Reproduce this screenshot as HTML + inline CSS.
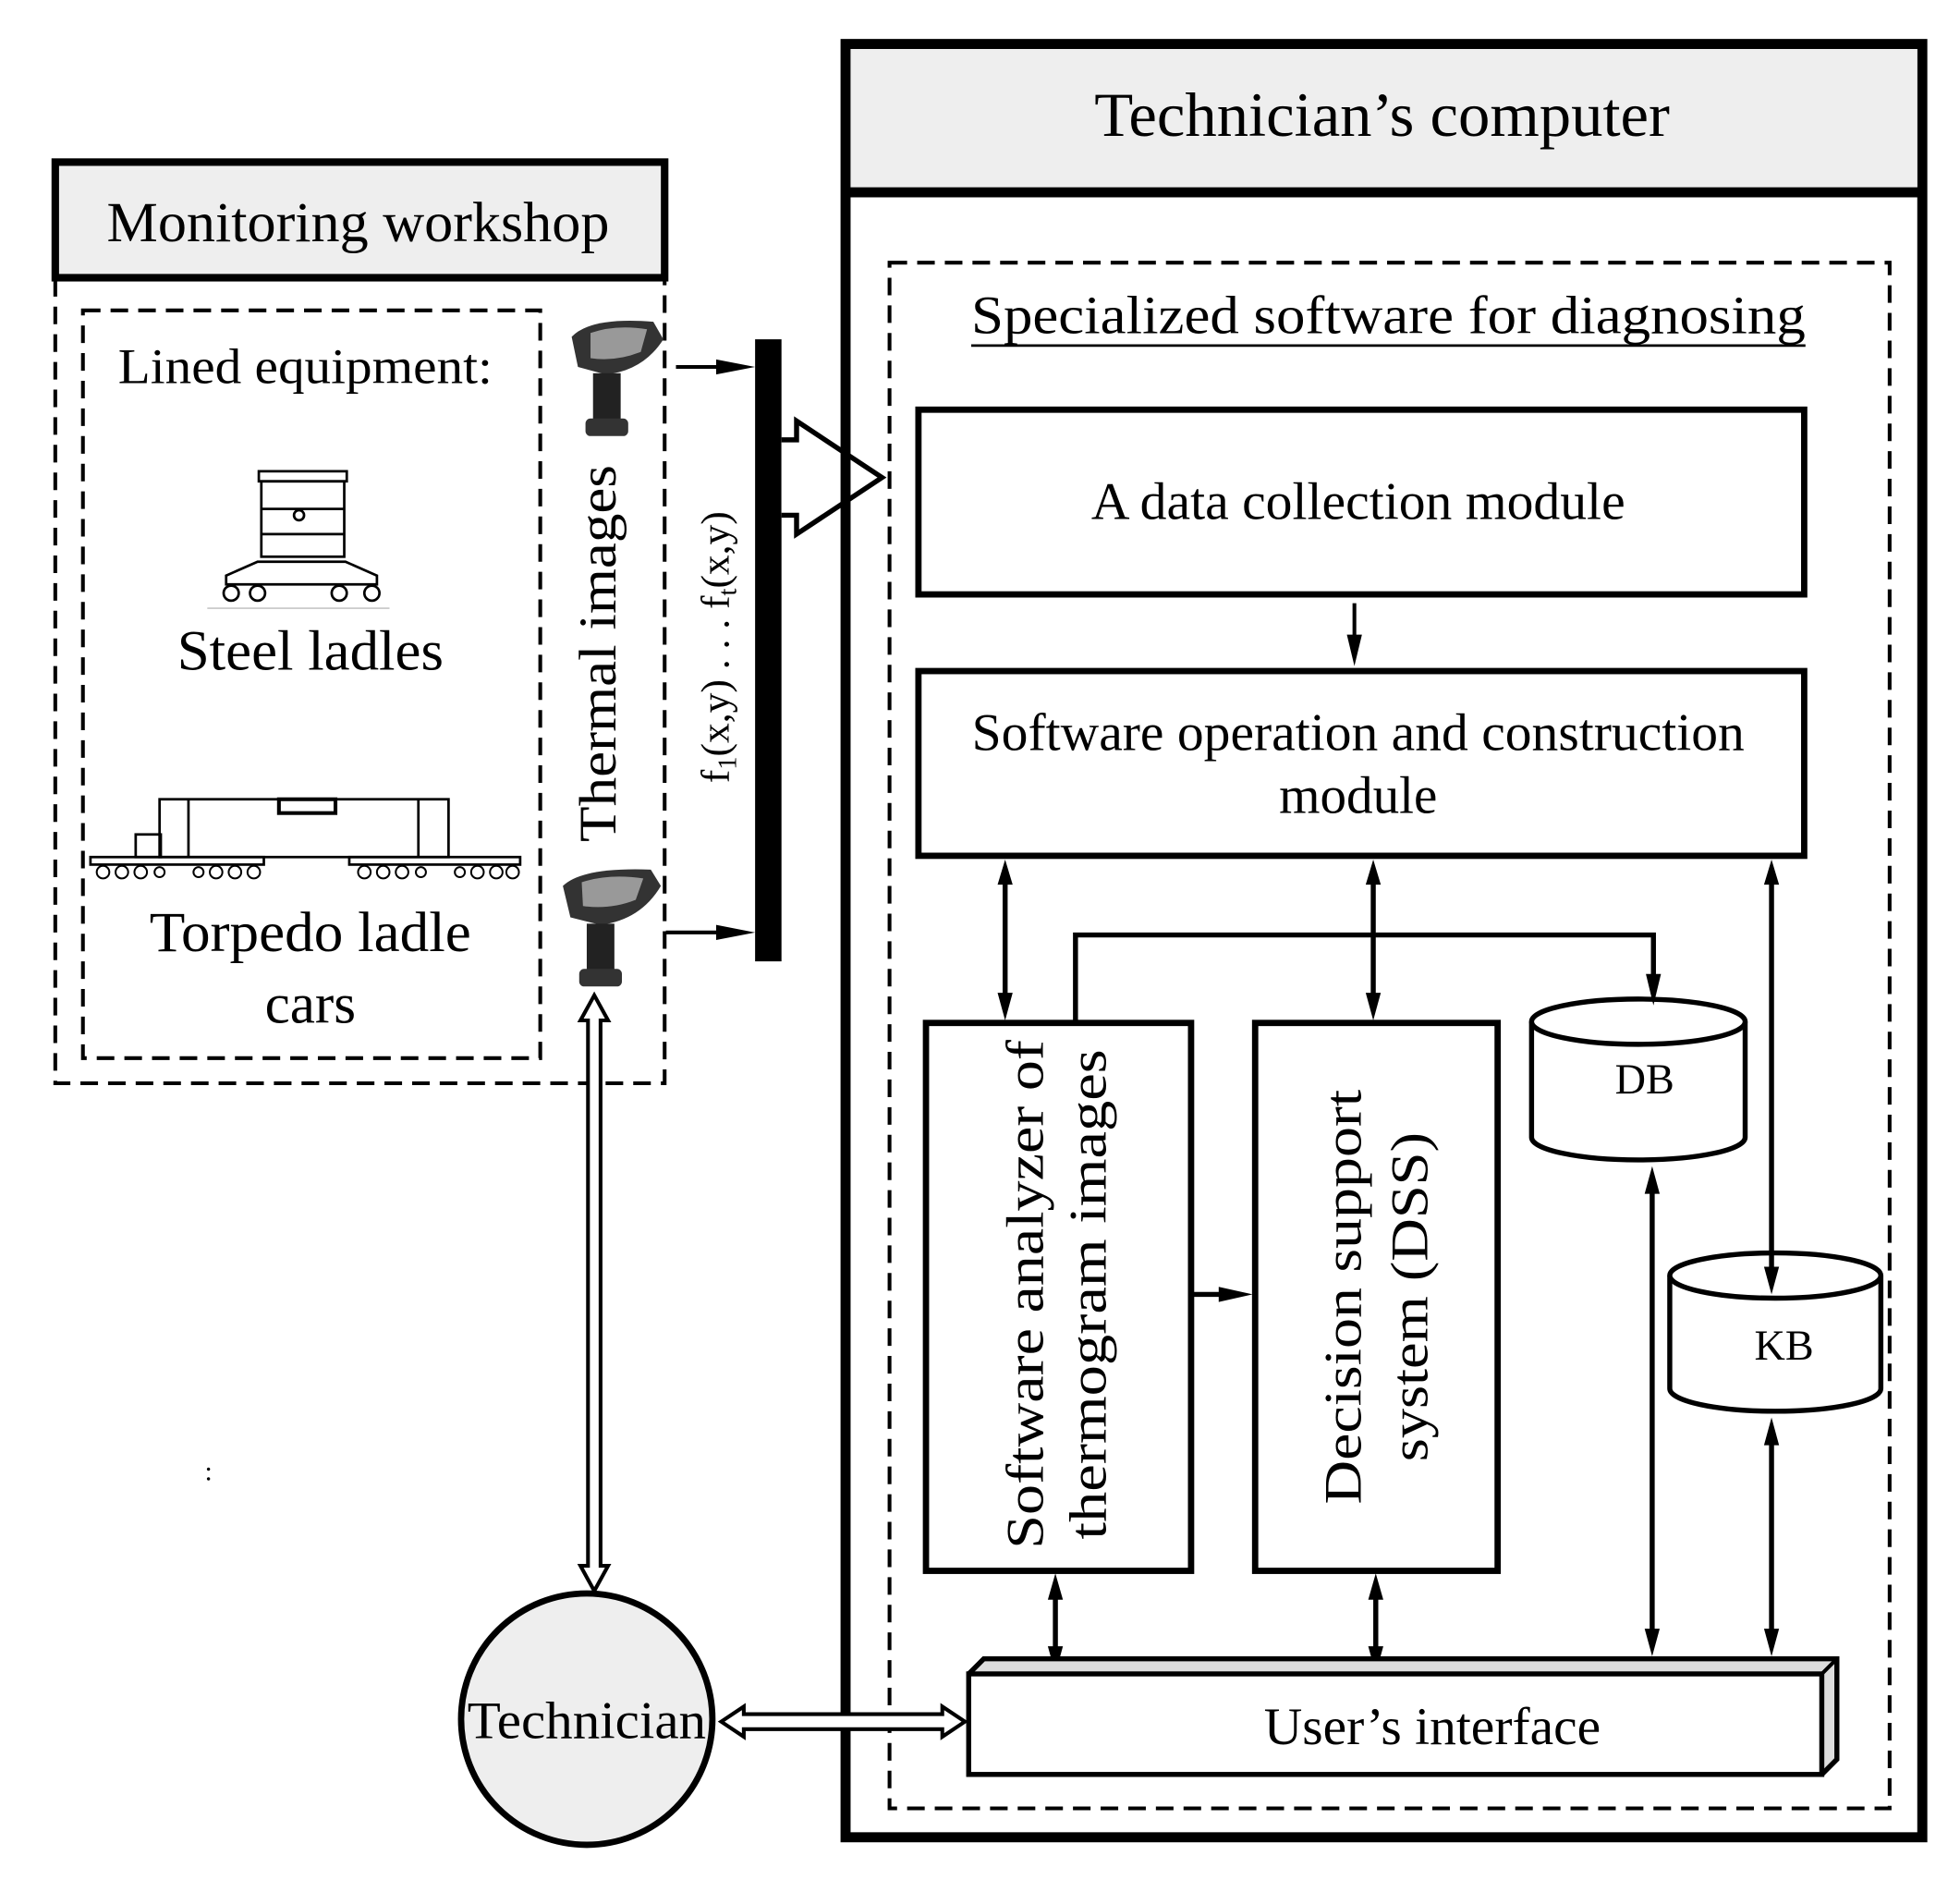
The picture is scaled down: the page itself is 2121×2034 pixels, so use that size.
<!DOCTYPE html>
<html><head><meta charset="utf-8"><style>
html,body{margin:0;padding:0;background:#fff}
svg{display:block}
text{font-family:"Liberation Serif",serif;fill:#000}
</style></head><body>
<svg width="2121" height="2034" viewBox="0 0 1560 1496" preserveAspectRatio="none" xmlns="http://www.w3.org/2000/svg">
<rect width="1560" height="1496" fill="#fff"/>

<!-- Monitoring workshop -->
<rect x="44" y="129" width="485" height="92" fill="#eeeeee" stroke="#000" stroke-width="6"/>
<text x="285" y="192" font-size="45" text-anchor="middle" textLength="400" lengthAdjust="spacingAndGlyphs">Monitoring workshop</text>
<path d="M44,222 V862 H529 V222" fill="none" stroke="#000" stroke-width="3" stroke-dasharray="14,8"/>
<rect x="66" y="247" width="364" height="595" fill="none" stroke="#000" stroke-width="3" stroke-dasharray="14,8"/>
<text x="243" y="305" font-size="40" text-anchor="middle" textLength="298" lengthAdjust="spacingAndGlyphs">Lined equipment:</text>
<!-- steel ladle drawing -->
<g fill="none" stroke="#000" stroke-width="2">
<rect x="206" y="375" width="70" height="8"/>
<rect x="208" y="383" width="66" height="60"/>
<line x1="208" y1="405" x2="274" y2="405"/><line x1="208" y1="425" x2="274" y2="425"/>
<circle cx="238" cy="410" r="4"/>
<path d="M180,458 L205,447 H275 L300,458 V465 H180 z"/>
<circle cx="184" cy="472" r="6"/><circle cx="205" cy="472" r="6"/><circle cx="270" cy="472" r="6"/><circle cx="296" cy="472" r="6"/>
</g>
<line x1="165" y1="484" x2="310" y2="484" stroke="#bbb" stroke-width="1"/>
<text x="247" y="533" font-size="45" text-anchor="middle" textLength="212" lengthAdjust="spacingAndGlyphs">Steel ladles</text>
<!-- torpedo car -->
<g fill="none" stroke="#000" stroke-width="2">
<rect x="127" y="636" width="230" height="46"/>
<rect x="222" y="636" width="45" height="11" stroke-width="3"/>
<rect x="108" y="664" width="20" height="18"/>
<line x1="150" y1="636" x2="150" y2="682"/><line x1="333" y1="636" x2="333" y2="682"/>
<rect x="72" y="682" width="138" height="6"/><rect x="278" y="682" width="136" height="6"/>
<g stroke-width="1.5"><circle cx="82" cy="694" r="5"/><circle cx="97" cy="694" r="5"/><circle cx="112" cy="694" r="5"/><circle cx="127" cy="694" r="4"/><circle cx="158" cy="694" r="4"/><circle cx="172" cy="694" r="5"/><circle cx="187" cy="694" r="5"/><circle cx="202" cy="694" r="5"/>
<circle cx="290" cy="694" r="5"/><circle cx="305" cy="694" r="5"/><circle cx="320" cy="694" r="5"/><circle cx="335" cy="694" r="4"/><circle cx="366" cy="694" r="4"/><circle cx="380" cy="694" r="5"/><circle cx="395" cy="694" r="5"/><circle cx="408" cy="694" r="5"/></g>
</g>
<text x="247" y="757" font-size="45" text-anchor="middle" textLength="256" lengthAdjust="spacingAndGlyphs">Torpedo ladle</text>
<text x="247" y="814" font-size="45" text-anchor="middle">cars</text>
<text x="166" y="1178" font-size="22" text-anchor="middle">:</text>

<!-- cameras -->
<g>
<path d="M455,268 Q470,252 520,256 L528,270 Q512,295 482,298 L460,292 Z" fill="#333"/>
<path d="M470,265 Q490,258 515,262 L510,280 Q490,288 470,285 Z" fill="#999"/>
<rect x="472" y="297" width="22" height="38" fill="#222"/>
<rect x="466" y="333" width="34" height="14" rx="4" fill="#333"/>
</g>
<g>
<path d="M448,705 Q463,690 518,692 L526,705 Q510,732 478,736 L454,730 Z" fill="#333"/>
<path d="M463,702 Q485,695 512,699 L506,716 Q486,724 464,721 Z" fill="#999"/>
<rect x="467" y="735" width="22" height="38" fill="#222"/>
<rect x="461" y="771" width="34" height="14" rx="4" fill="#333"/>
</g>
<text transform="translate(490,520) rotate(-90)" font-size="42" text-anchor="middle" textLength="300" lengthAdjust="spacingAndGlyphs">Thermal images</text>
<text transform="translate(580,515) rotate(-90)" font-size="32" text-anchor="middle">f<tspan font-size="21" dy="6">1</tspan><tspan dy="-6">(x,y) . . . f</tspan><tspan font-size="21" dy="6">t</tspan><tspan dy="-6">(x,y)</tspan></text>

<!-- arrows to bar -->
<line x1="538" y1="292" x2="575" y2="292" stroke="#000" stroke-width="3"/>
<polygon points="570,286 601,292 570,298" fill="#000"/>
<line x1="530" y1="742" x2="575" y2="742" stroke="#000" stroke-width="3"/>
<polygon points="570,736 601,742 570,748" fill="#000"/>
<rect x="601" y="270" width="21" height="495" fill="#000"/>
<!-- big hollow arrow -->
<path d="M622,350 H634 V335 L702,380 L634,425 V410 H622" fill="#fff" stroke="#000" stroke-width="4"/>

<!-- Technician's computer -->
<rect x="673" y="35" width="857" height="1427" fill="none" stroke="#000" stroke-width="8"/>
<rect x="677" y="39" width="849" height="113" fill="#eeeeee"/>
<line x1="673" y1="153" x2="1530" y2="153" stroke="#000" stroke-width="8"/>
<text x="1100" y="108" font-size="50" text-anchor="middle" textLength="458" lengthAdjust="spacingAndGlyphs">Technician’s computer</text>
<rect x="708" y="209" width="796" height="1230" fill="none" stroke="#000" stroke-width="3" stroke-dasharray="14,8"/>
<text x="1105" y="265" font-size="43" text-anchor="middle" textLength="664" lengthAdjust="spacingAndGlyphs">Specialized software for diagnosing</text>
<line x1="773" y1="275" x2="1437" y2="275" stroke="#000" stroke-width="2"/>

<rect x="731" y="326" width="705" height="147" fill="#fff" stroke="#000" stroke-width="5"/>
<text x="1081" y="413" font-size="42" text-anchor="middle" textLength="425" lengthAdjust="spacingAndGlyphs">A data collection module</text>
<line x1="1078" y1="480" x2="1078" y2="510" stroke="#000" stroke-width="3"/>
<polygon points="1072,505 1078,530 1084,505" fill="#000"/>
<rect x="731" y="534" width="705" height="147" fill="#fff" stroke="#000" stroke-width="5"/>
<text x="1081" y="597" font-size="42" text-anchor="middle" textLength="615" lengthAdjust="spacingAndGlyphs">Software operation and construction</text>
<text x="1081" y="647" font-size="42" text-anchor="middle">module</text>

<rect x="737" y="814" width="211" height="436" fill="#fff" stroke="#000" stroke-width="5"/>
<text transform="translate(830,1030) rotate(-90)" font-size="42" text-anchor="middle" textLength="405" lengthAdjust="spacingAndGlyphs">Software analyzer of</text>
<text transform="translate(880,1030) rotate(-90)" font-size="42" text-anchor="middle" textLength="390" lengthAdjust="spacingAndGlyphs">thermogram images</text>
<rect x="999" y="814" width="193" height="436" fill="#fff" stroke="#000" stroke-width="5"/>
<text transform="translate(1083,1032) rotate(-90)" font-size="42" text-anchor="middle" textLength="330" lengthAdjust="spacingAndGlyphs">Decision support</text>
<text transform="translate(1136,1032) rotate(-90)" font-size="42" text-anchor="middle" textLength="262" lengthAdjust="spacingAndGlyphs">system (DSS)</text>

<!-- DB -->
<path d="M1219,813 V905 A85,18 0 0 0 1389,905 V813" fill="#fff" stroke="#000" stroke-width="4"/>
<ellipse cx="1304" cy="813" rx="85" ry="18" fill="#fff" stroke="#000" stroke-width="4"/>
<text x="1309" y="870" font-size="34" text-anchor="middle">DB</text>
<!-- KB -->
<path d="M1329,1015 V1105 A84,18 0 0 0 1497,1105 V1015" fill="#fff" stroke="#000" stroke-width="4"/>
<ellipse cx="1413" cy="1015" rx="84" ry="18" fill="#fff" stroke="#000" stroke-width="4"/>
<text x="1420" y="1082" font-size="34" text-anchor="middle">KB</text>

<!-- connectors -->
<g stroke="#000" stroke-width="4" fill="none">
<line x1="800" y1="700" x2="800" y2="795"/>
<line x1="1093" y1="700" x2="1093" y2="795"/>
<line x1="1410" y1="700" x2="1410" y2="1010"/>
<path d="M856,812 V744 H1316 V780"/>
<line x1="950" y1="1030" x2="975" y2="1030"/>
<line x1="840" y1="1268" x2="840" y2="1315"/>
<line x1="1095" y1="1268" x2="1095" y2="1315"/>
<line x1="1315" y1="945" x2="1315" y2="1300"/>
<line x1="1410" y1="1145" x2="1410" y2="1300"/>
</g>
<g fill="#000">
<polygon points="794,704 800,684 806,704"/><polygon points="794,790 800,812 806,790"/>
<polygon points="1087,704 1093,684 1099,704"/><polygon points="1087,790 1093,812 1099,790"/>
<polygon points="1404,704 1410,684 1416,704"/><polygon points="1404,1008 1410,1030 1416,1008"/>
<polygon points="1310,775 1316,800 1322,775"/>
<polygon points="970,1024 997,1030 970,1036"/>
<polygon points="834,1273 840,1252 846,1273"/><polygon points="834,1310 840,1332 846,1310"/>
<polygon points="1089,1273 1095,1252 1101,1273"/><polygon points="1089,1310 1095,1332 1101,1310"/>
<polygon points="1309,950 1315,928 1321,950"/><polygon points="1309,1296 1315,1318 1321,1296"/>
<polygon points="1404,1150 1410,1128 1416,1150"/><polygon points="1404,1296 1410,1318 1416,1296"/>
</g>

<!-- User's interface 3D -->
<path d="M771,1332 L783,1320 H1462 V1400 L1450,1412" fill="#ddd" stroke="#000" stroke-width="4"/>
<rect x="771" y="1332" width="679" height="80" fill="#fff" stroke="#000" stroke-width="4"/>
<line x1="1450" y1="1332" x2="1462" y2="1320" stroke="#000" stroke-width="3"/>
<text x="1140" y="1388" font-size="42" text-anchor="middle" textLength="268" lengthAdjust="spacingAndGlyphs">User’s interface</text>

<!-- Technician -->
<circle cx="467" cy="1368" r="100" fill="#eeeeee" stroke="#000" stroke-width="5"/>
<text x="467" y="1383" font-size="42" text-anchor="middle" textLength="190" lengthAdjust="spacingAndGlyphs">Technician</text>

<!-- hollow double arrows -->
<path d="M473,792 L484,812 H478 V1246 H484 L473,1266 L462,1246 H468 V812 H462 Z" fill="#fff" stroke="#000" stroke-width="3"/>
<path d="M574,1370 L592,1358 V1364 H750 V1358 L768,1370 L750,1382 V1376 H592 V1382 Z" fill="#fff" stroke="#000" stroke-width="3"/>
</svg>
</body></html>
